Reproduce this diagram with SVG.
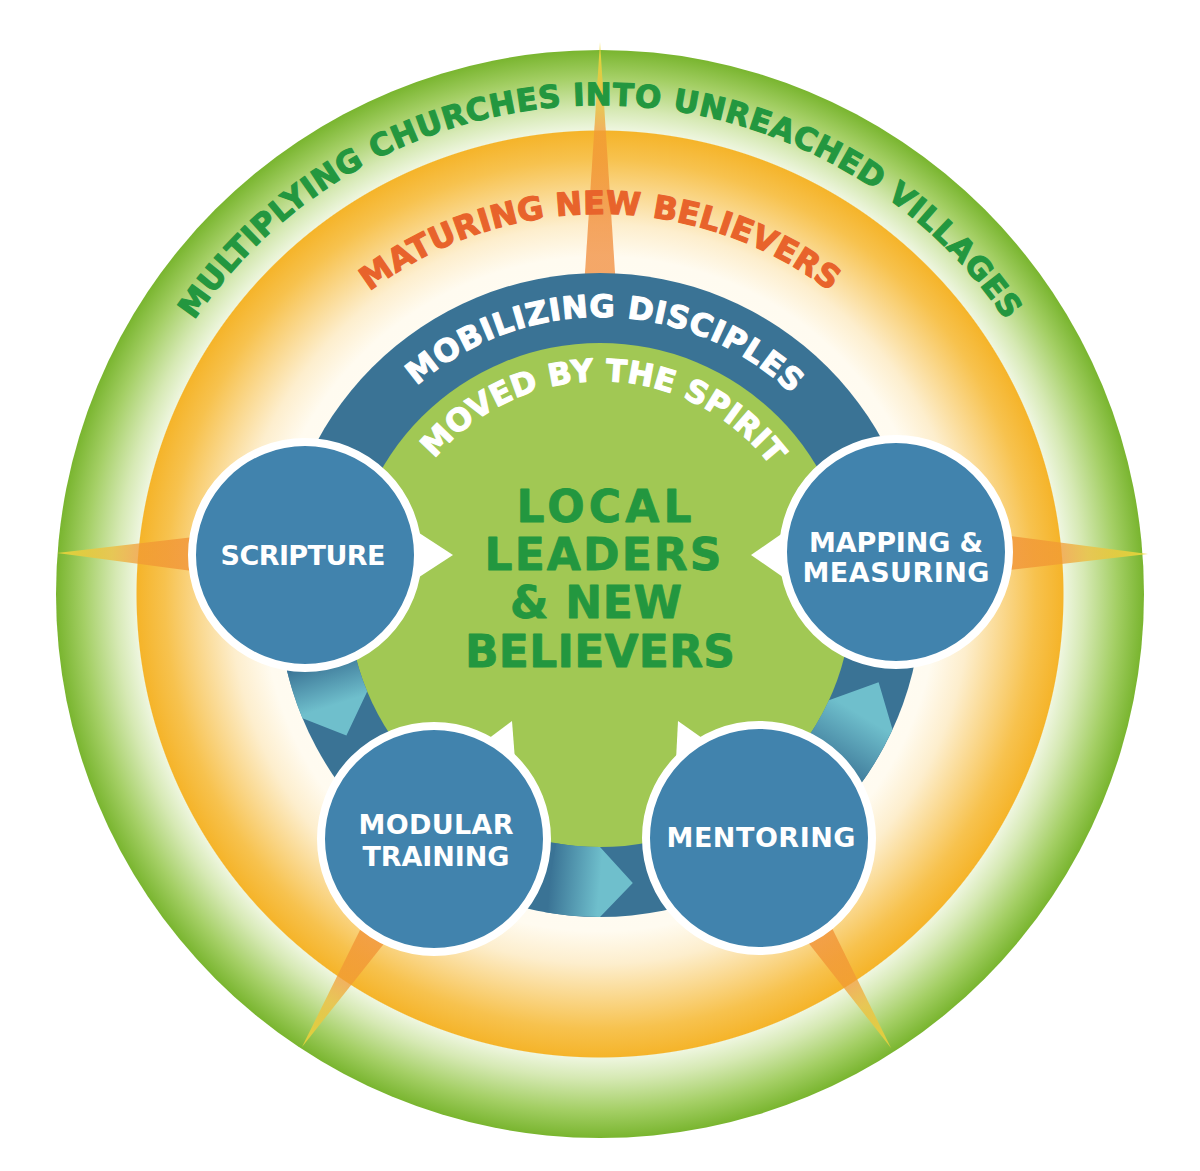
<svg xmlns="http://www.w3.org/2000/svg" width="1200" height="1171" viewBox="0 0 1200 1171">
<style>
.curve{font-family:"DejaVu Sans","Liberation Sans",sans-serif;font-weight:bold;stroke-width:1.1px;stroke-linejoin:round;}
.node-circle{fill:#4183ad;stroke:#ffffff;stroke-width:8;}
.node-label{font-family:"DejaVu Sans","Liberation Sans",sans-serif;font-weight:bold;font-size:27px;fill:#ffffff;text-anchor:middle;}
.center-label{font-family:"DejaVu Sans","Liberation Sans",sans-serif;font-weight:bold;font-size:44px;fill:#23973f;stroke:#23973f;stroke-width:0.8px;stroke-linejoin:round;text-anchor:middle;}
.pointer{fill:#ffffff;}
.spike{fill:url(#spikeGrad);}
</style>
<defs>
<radialGradient id="bgGrad" gradientUnits="userSpaceOnUse" cx="600" cy="594" r="544">
<stop offset="0" stop-color="#ffffff"/>
<stop offset="0.62" stop-color="#fffbf0"/>
<stop offset="0.68" stop-color="#fdeecd"/>
<stop offset="0.74" stop-color="#fad88e"/>
<stop offset="0.80" stop-color="#f7c24e"/>
<stop offset="0.851" stop-color="#f5b42a"/>
<stop offset="0.853" stop-color="#eef6df"/>
<stop offset="0.89" stop-color="#d6e9b4"/>
<stop offset="0.95" stop-color="#a4cf65"/>
<stop offset="1" stop-color="#79b52f"/>
</radialGradient>
<radialGradient id="spikeGrad" gradientUnits="userSpaceOnUse" cx="600" cy="594" r="544">
<stop offset="0" stop-color="#f07a2a" stop-opacity="0.7"/>
<stop offset="0.7" stop-color="#f0852e" stop-opacity="0.7"/>
<stop offset="0.85" stop-color="#f19a35" stop-opacity="0.75"/>
<stop offset="0.9" stop-color="#efbd3a" stop-opacity="0.75"/>
<stop offset="1" stop-color="#f1d83c" stop-opacity="0.85"/>
</radialGradient>
<linearGradient id="arrowGrad1" gradientUnits="userSpaceOnUse" x1="320.4" y1="659.6" x2="334.8" y2="704.8">
<stop offset="0" stop-color="#3a7395"/><stop offset="1" stop-color="#6fbfcc"/>
</linearGradient>
<linearGradient id="arrowGrad2" gradientUnits="userSpaceOnUse" x1="550.2" y1="877.6" x2="600" y2="882">
<stop offset="0" stop-color="#3a7395"/><stop offset="1" stop-color="#6fbfcc"/>
</linearGradient>
<linearGradient id="arrowGrad3" gradientUnits="userSpaceOnUse" x1="826.2" y1="771.7" x2="860.7" y2="714.9">
<stop offset="0" stop-color="#3a7395"/><stop offset="1" stop-color="#6fbfcc"/>
</linearGradient>
<path id="arcOuter" d="M 110 595 A 490 490 0 0 1 1090 595"/>
<path id="arcOrange" d="M 219 595 A 381 381 0 0 1 981 595"/>
<path id="arcBlue" d="M 322.06 589.18 A 278 278 0 0 1 877.94 600.82"/>
<path id="arcGreen" d="M 385.05 590.5 A 215 215 0 0 1 814.95 599.5"/>
</defs>

<rect x="0" y="0" width="1200" height="1171" fill="#ffffff"/>

<g id="background">
<circle cx="600" cy="594" r="544" fill="url(#bgGrad)"/>
<g id="spikes">
<polygon class="spike" points="600,42 564,595 636,595"/>
<polygon class="spike" points="57,553 305,524 305,586"/>
<polygon class="spike" points="1148,554 896,521 896,583"/>
<polygon class="spike" points="302,1047 455.9,852.9 412.1,825.1"/>
<polygon class="spike" points="891,1048 781,824.2 737,851.8"/>
</g>
<circle id="ring-blue" cx="600" cy="595" r="322" fill="#3a7395"/>
<circle id="disk-green" cx="600" cy="595" r="252" fill="#a1c854"/>
</g>

<g id="ring-labels">
<text class="curve" font-size="31" fill="#23973f" stroke="#23973f"><textPath href="#arcOuter" startOffset="50%" text-anchor="middle" textLength="956" lengthAdjust="spacing">MULTIPLYING CHURCHES INTO UNREACHED VILLAGES</textPath></text>
<text class="curve" font-size="32" fill="#e8632b" stroke="#e8632b"><textPath href="#arcOrange" startOffset="50%" text-anchor="middle" textLength="495" lengthAdjust="spacing">MATURING NEW BELIEVERS</textPath></text>
<text class="curve" font-size="31" fill="#ffffff" stroke="#ffffff"><textPath href="#arcBlue" startOffset="50%" text-anchor="middle" textLength="412" lengthAdjust="spacing">MOBILIZING DISCIPLES</textPath></text>
<text class="curve" font-size="31" fill="#ffffff" stroke="#ffffff"><textPath href="#arcGreen" startOffset="50%" text-anchor="middle" textLength="387" lengthAdjust="spacing">MOVED BY THE SPIRIT</textPath></text>
</g>

<g id="center">
<text class="center-label" x="604" y="522" textLength="175" lengthAdjust="spacing">LOCAL</text>
<text class="center-label" x="603" y="570" textLength="237" lengthAdjust="spacing">LEADERS</text>
<text class="center-label" x="596" y="618" textLength="172" lengthAdjust="spacing">&amp; NEW</text>
<text class="center-label" x="600" y="667" textLength="270" lengthAdjust="spacing">BELIEVERS</text>
</g>

<g id="connectors">
<path d="M 286.2 667.4 A 322 322 0 0 0 302.5 718.2 L 346.4 735.6 L 367.2 691.4 A 252 252 0 0 1 354.4 651.7 Z" fill="url(#arrowGrad1)"/>
<path d="M 544.1 912.1 A 322 322 0 0 0 600 917 L 632.8 883.1 L 600 847 A 252 252 0 0 1 556.3 843.2 Z" fill="url(#arrowGrad2)"/>
<path d="M 853.7 793.3 A 322 322 0 0 0 892.5 729.6 L 878.6 682.3 L 828.9 700.3 A 252 252 0 0 1 798.6 750.2 Z" fill="url(#arrowGrad3)"/>
<polygon class="pointer" points="410,527 453,555 410,583"/>
<polygon class="pointer" points="790,528 751,555 790,582"/>
<polygon class="pointer" points="480,745 512,721 515,760"/>
<polygon class="pointer" points="676,760 678,721 712,745"/>
</g>

<g id="node-scripture">
<circle class="node-circle" cx="305" cy="555" r="113"/>
<text class="node-label" x="303" y="565" textLength="165" lengthAdjust="spacing">SCRIPTURE</text>
</g>
<g id="node-mapping">
<circle class="node-circle" cx="896" cy="552" r="113"/>
<text class="node-label" x="896" y="552" textLength="174" lengthAdjust="spacing">MAPPING &amp;</text>
<text class="node-label" x="896" y="582" textLength="187" lengthAdjust="spacing">MEASURING</text>
</g>
<g id="node-modular">
<circle class="node-circle" cx="434" cy="839" r="113"/>
<text class="node-label" x="436" y="834" textLength="155" lengthAdjust="spacing">MODULAR</text>
<text class="node-label" x="436" y="866" textLength="147" lengthAdjust="spacing">TRAINING</text>
</g>
<g id="node-mentoring">
<circle class="node-circle" cx="759" cy="838" r="113"/>
<text class="node-label" x="761" y="847" textLength="189" lengthAdjust="spacing">MENTORING</text>
</g>
</svg>
